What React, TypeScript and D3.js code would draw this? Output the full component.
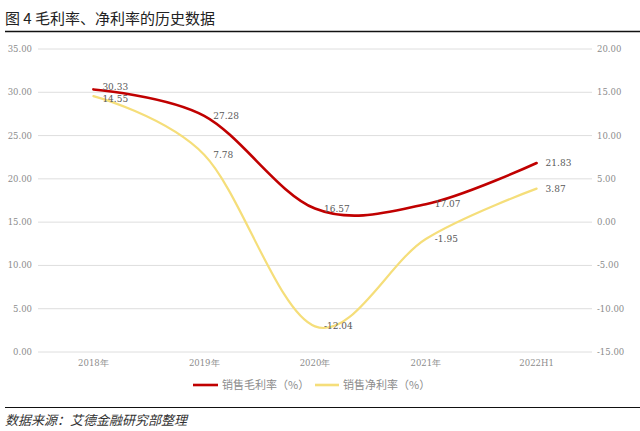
import React from "react";
import * as d3 from "d3";

const categories = ["2018年", "2019年", "2020年", "2021年", "2022H1"];
const grossMargin = [30.33, 27.28, 16.57, 17.07, 21.83];
const netMargin = [14.55, 7.78, -12.04, -1.95, 3.87];
const leftTicks = [0, 5, 10, 15, 20, 25, 30, 35];
const rightTicks = [-15, -10, -5, 0, 5, 10, 15, 20];
const seriesNames = ["销售毛利率（%）", "销售净利率（%）"];

const W = 640, H = 431;
const plotL = 38, plotR = 592, plotT = 49, plotB = 352;

export default function App() {
  const x = d3.scaleBand<string>().domain(categories).range([plotL, plotR]);
  const yL = d3.scaleLinear().domain([0, 35]).range([plotB, plotT]);
  const yR = d3.scaleLinear().domain([-15, 20]).range([plotB, plotT]);
  const cx = (c: string) => (x(c) as number) + x.bandwidth() / 2;
  const curve = d3.curveCatmullRom.alpha(0);
  const lineG = d3.line<number>().x((_, i) => cx(categories[i])).y(d => yL(d)).curve(curve);
  const lineN = d3.line<number>().x((_, i) => cx(categories[i])).y(d => yR(d)).curve(curve);
  const num = "'DejaVu Serif', 'Liberation Serif', serif";
  const cjk = "'Noto Sans CJK SC', sans-serif";
  const fmt = (v: number) => v.toFixed(2);
  const red = "#C00000";
  const yellow = "#F5DE7A";

  return (
    <svg width={W} height={H} style={{ position: "absolute", left: 0, top: 0, background: "#fff" }}>
      <text x={5} y={24} fontFamily={cjk} fontSize={15} fill="#222">图 4 毛利率、净利率的历史数据</text>
      <line x1={5} x2={640} y1={31.5} y2={31.5} stroke="#111" strokeWidth={1.5} />
      {leftTicks.map(t => (
        <g key={"l" + t}>
          <line x1={plotL} x2={plotR} y1={yL(t)} y2={yL(t)} stroke="#dedede" strokeWidth={1} />
          <text x={32} y={yL(t) + 3} textAnchor="end" fontFamily={num} fontSize={8.5} fill="#8c8c8c">{fmt(t)}</text>
        </g>
      ))}
      {rightTicks.map(t => (
        <text key={"r" + t} x={597} y={yR(t) + 3} fontFamily={num} fontSize={8.5} fill="#8c8c8c">{fmt(t)}</text>
      ))}
      {categories.map(c => (
        <text key={c} x={cx(c)} y={366} textAnchor="middle" fontFamily={num} fontSize={8.5} fill="#8c8c8c">{c}</text>
      ))}
      <path d={lineN(netMargin) || ""} fill="none" stroke={yellow} strokeWidth={2.2} strokeLinecap="round" />
      <path d={lineG(grossMargin) || ""} fill="none" stroke={red} strokeWidth={2.6} strokeLinecap="round" />
      {grossMargin.map((v, i) => (
        <text key={"g" + i} x={cx(categories[i]) + 9} y={yL(v) + (i === 0 ? 1 : 3)} fontFamily={num} fontSize={9} fill="#595959">{fmt(v)}</text>
      ))}
      {netMargin.map((v, i) => (
        <text key={"n" + i} x={cx(categories[i]) + 9} y={yR(v) + (i === 0 ? 6 : 3)} fontFamily={num} fontSize={9} fill="#595959">{fmt(v)}</text>
      ))}
      <line x1={193} x2={218} y1={385} y2={385} stroke={red} strokeWidth={2.6} />
      <text x={222} y={389} fontFamily={cjk} fontSize={11} fill="#8c8c8c">{seriesNames[0]}</text>
      <line x1={315} x2={339} y1={385} y2={385} stroke={yellow} strokeWidth={2.6} />
      <text x={343} y={389} fontFamily={cjk} fontSize={11} fill="#8c8c8c">{seriesNames[1]}</text>
      <line x1={5} x2={640} y1={407.5} y2={407.5} stroke="#111" strokeWidth={1} />
      <text x={5} y={425} fontFamily={cjk} fontSize={13} fontStyle="italic" fill="#333">数据来源：艾德金融研究部整理</text>
    </svg>
  );
}
